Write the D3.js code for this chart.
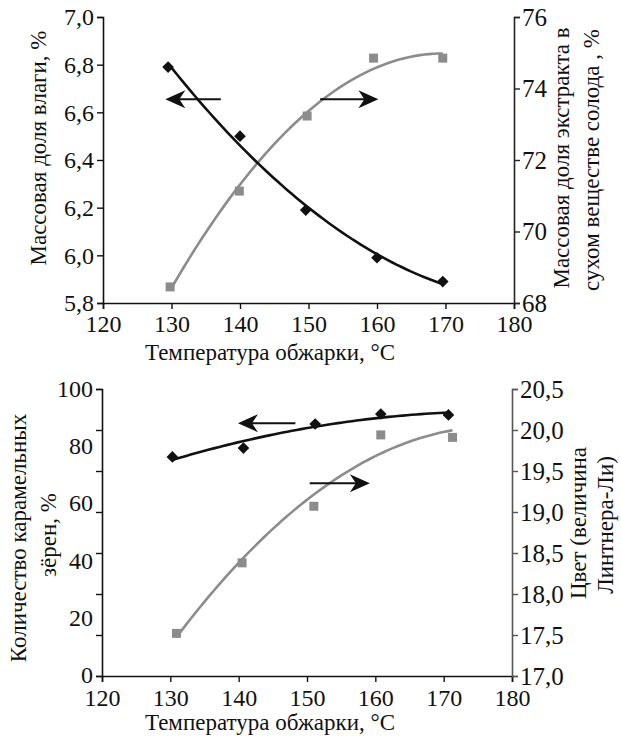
<!DOCTYPE html>
<html>
<head>
<meta charset="utf-8">
<script src="https://cdn.jsdelivr.net/npm/d3@7"></script>
<style>
  body { margin: 0; background: #fff; font-family: "Liberation Serif", serif; }
</style>
</head>
<body>
<div id="chart"></div>
<script>
// top panel: moisture (left axis) and extract (right axis)
let topTempMoist = [129.5, 140, 149.6, 160, 169.6];
let moisture = [6.79, 6.50, 6.19, 5.99, 5.89];
let topTempExtract = [129.8, 139.9, 149.8, 159.5, 169.6];
let extract = [68.45, 71.13, 73.23, 74.85, 74.85];

// bottom panel: caramel grains (left axis) and colour (right axis)
let botTempCaramel = [130.3, 140.7, 151.2, 160.8, 170.7];
let caramel = [76.6, 79.7, 88.1, 91.6, 91.3];
let botTempColour = [130.9, 140.5, 151, 160.8, 171.3];
let colour = [17.52, 18.38, 19.07, 19.94, 19.91];

let xTicks = [120, 130, 140, 150, 160, 170, 180];
let moistTicks = [5.8, 6.0, 6.2, 6.4, 6.6, 6.8, 7.0];
let extractTicks = [68, 70, 72, 74, 76];
let caramelTicks = [0, 20, 40, 60, 80, 100];
let colourTicks = [17.0, 17.5, 18.0, 18.5, 19.0, 19.5, 20.0, 20.5];

let xTitle = "Температура обжарки, °C";

const FONT = "Liberation Serif";
const fmt1 = d => d3.format(".1f")(d).replace(".", ",");

let svg = d3.select("#chart").append("svg")
    .attr("width", 621).attr("height", 736)
    .attr("font-family", FONT);
svg.append("rect").attr("width", 621).attr("height", 736).attr("fill", "#fff");

// quadratic least squares, like the spreadsheet trendline
function polyfit2(xs, ys) {
    let mx = d3.mean(xs);
    let u = xs.map(x => x - mx);
    let s = [0, 0, 0, 0, 0], t = [0, 0, 0];
    u.forEach((x, i) => {
        for (let k = 0; k < 5; k++) s[k] += Math.pow(x, k);
        for (let k = 0; k < 3; k++) t[k] += Math.pow(x, k) * ys[i];
    });
    // solve 3x3 normal equations
    let A = [[s[0], s[1], s[2], t[0]], [s[1], s[2], s[3], t[1]], [s[2], s[3], s[4], t[2]]];
    for (let i = 0; i < 3; i++) {
        for (let j = i + 1; j < 3; j++) {
            let f = A[j][i] / A[i][i];
            for (let k = i; k < 4; k++) A[j][k] -= f * A[i][k];
        }
    }
    let c = [0, 0, 0];
    for (let i = 2; i >= 0; i--) {
        let v = A[i][3];
        for (let k = i + 1; k < 3; k++) v -= A[i][k] * c[k];
        c[i] = v / A[i][i];
    }
    return x => c[0] + c[1] * (x - mx) + c[2] * (x - mx) * (x - mx);
}

function trend(g, x, y, xs, ys, color) {
    let f = polyfit2(xs, ys);
    let ext = d3.extent(xs);
    let pts = d3.range(0, 61).map(i => {
        let xv = ext[0] + (ext[1] - ext[0]) * i / 60;
        return [x(xv), y(f(xv))];
    });
    g.append("path")
        .attr("d", d3.line()(pts))
        .attr("fill", "none")
        .attr("stroke", color)
        .attr("stroke-width", 2.6);
}

function diamonds(g, x, y, xs, ys) {
    g.selectAll(null).data(xs).enter().append("path")
        .attr("d", d3.symbol(d3.symbolSquare, 68))
        .attr("transform", (d, i) => "translate(" + x(d) + "," + y(ys[i]) + ") rotate(45)")
        .attr("fill", "#111");
}

function squares(g, x, y, xs, ys) {
    g.selectAll(null).data(xs).enter().append("rect")
        .attr("x", d => x(d) - 4.5)
        .attr("y", (d, i) => y(ys[i]) - 4.5)
        .attr("width", 9).attr("height", 9)
        .attr("fill", "#8c8c8c");
}

// horizontal arrow with a notched filled head at x2
function arrow(g, x1, x2, yy) {
    let dir = x2 > x1 ? 1 : -1;
    g.append("line")
        .attr("x1", x1).attr("x2", x2 - dir * 8)
        .attr("y1", yy).attr("y2", yy)
        .attr("stroke", "#111").attr("stroke-width", 2);
    let p = d3.path();
    p.moveTo(x2, yy);
    p.lineTo(x2 - dir * 20, yy - 9);
    p.lineTo(x2 - dir * 14, yy);
    p.lineTo(x2 - dir * 20, yy + 9);
    p.closePath();
    g.append("path").attr("d", p.toString()).attr("fill", "#111");
}

function setFont(sel, size) {
    sel.attr("font-family", FONT)
        .attr("font-size", size)
        .style("font-family", FONT)
        .style("font-size", size + "px")
        .attr("fill", "#111");
}

function styleAxis(a, color, size) {
    a.attr("font-family", FONT).attr("font-size", size || 24);
    a.select(".domain").attr("stroke", color).attr("stroke-width", 1.6);
    a.selectAll(".tick line").attr("stroke", color).attr("stroke-width", 1.4);
    setFont(a.selectAll("text"), size || 24);
}

function label(x0, y0, txt, rot) {
    let t = svg.append("text")
        .attr("transform", "translate(" + x0 + "," + y0 + ")" + (rot ? " rotate(-90)" : ""))
        .attr("text-anchor", "middle")
        .attr("dominant-baseline", "central")
        .text(txt);
    setFont(t, 23);
}

// ---------- top panel ----------
{
    let x = d3.scaleLinear().domain([120, 180]).range([103, 514]);
    let yL = d3.scaleLinear().domain([5.8, 7.0]).range([303, 17]);
    let yR = d3.scaleLinear().domain([68, 76]).range([303, 17]);
    let g = svg.append("g");

    let ax = g.append("g").attr("transform", "translate(0,303)")
        .call(d3.axisBottom(x).tickValues(xTicks).tickSize(6).tickPadding(6));
    styleAxis(ax, "#111", 24);
    let al = g.append("g").attr("transform", "translate(103,0)")
        .call(d3.axisLeft(yL).tickValues(moistTicks).tickFormat(fmt1).tickSize(6).tickPadding(3));
    styleAxis(al, "#111", 24);
    let ar = g.append("g").attr("transform", "translate(514,0)")
        .call(d3.axisRight(yR).tickValues(extractTicks).tickFormat(d3.format("d")).tickSize(6).tickPadding(2));
    styleAxis(ar, "#222", 25);

    trend(g, x, yR, topTempExtract, extract, "#8c8c8c");
    trend(g, x, yL, topTempMoist, moisture, "#111");
    squares(g, x, yR, topTempExtract, extract);
    diamonds(g, x, yL, topTempMoist, moisture);

    arrow(g, x(137.2), x(129.1), yL(6.655));
    arrow(g, x(151.7), x(160.2), yL(6.655));

    label(270, 352, xTitle, false);
    label(38, 148, "Массовая доля влаги, %", true);
    label(561, 158, "Массовая доля экстракта в", true);
    label(591, 160, "сухом веществе солода , %", true);
}

// ---------- bottom panel ----------
{
    let x = d3.scaleLinear().domain([120, 180]).range([102, 512]);
    let yL = d3.scaleLinear().domain([0, 100]).range([676, 390]);
    let yR = d3.scaleLinear().domain([17, 20.5]).range([676, 389]);
    let g = svg.append("g");

    let ax = g.append("g").attr("transform", "translate(0,676)")
        .call(d3.axisBottom(x).tickValues(xTicks).tickSize(6).tickPadding(7));
    styleAxis(ax, "#111", 24);
    // left axis: tick marks follow the right-hand scale, labels the left one
    let al = g.append("g").attr("transform", "translate(102,0)")
        .call(d3.axisLeft(yR).tickValues(colourTicks).tickFormat("").tickSize(6));
    styleAxis(al, "#111");
    let cl = g.selectAll(".clab").data(caramelTicks).enter().append("text")
        .attr("x", 93).attr("y", d => yL(d) - 1)
        .attr("text-anchor", "end").attr("dominant-baseline", "central")
        .text(d => d);
    setFont(cl, 24);
    let ar = g.append("g").attr("transform", "translate(512,0)")
        .call(d3.axisRight(yR).tickValues(colourTicks).tickFormat(fmt1).tickSize(6).tickPadding(2));
    styleAxis(ar, "#555", 25);

    trend(g, x, yR, botTempColour, colour, "#8c8c8c");
    trend(g, x, yL, botTempCaramel, caramel, "#111");
    squares(g, x, yR, botTempColour, colour);
    diamonds(g, x, yL, botTempCaramel, caramel);

    arrow(g, x(148.3), x(139.9), yL(88.4));
    arrow(g, x(150.4), x(159.2), yR(19.35));

    label(270, 722, xTitle, false);
    label(18, 538, "Количество карамельных", true);
    label(48, 535, "зёрен, %", true);
    label(578, 523, "Цвет (величина", true);
    label(605, 525, "Линтнера-Ли)", true);
}
</script>
</body>
</html>
